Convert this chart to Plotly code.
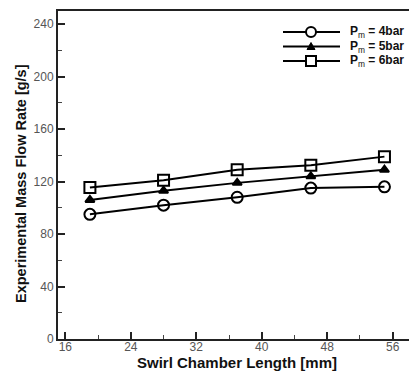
import plotly.graph_objects as go

# ---- data ----
chamber_length = [19, 28, 37, 46, 55]
flow_4bar = [95, 102, 108, 115, 116]
flow_5bar = [106, 113, 119, 124, 129]
flow_6bar = [115.5, 121, 129, 132.5, 139]
series_names = ["P<sub>m</sub> = 4bar", "P<sub>m</sub> = 5bar", "P<sub>m</sub> = 6bar"]
x_ticks = [16, 24, 32, 40, 48, 56]
y_ticks = [0, 40, 80, 120, 160, 200, 240]

W, H = 409, 371
L, T, R, B = 58, 11, 0, 32

fig = go.Figure()
symbols = ["circle-open", "triangle-up", "square-open"]
sizes = [11, 8, 11]
for ys, sym, sz, nm in zip([flow_4bar, flow_5bar, flow_6bar], symbols, sizes, series_names):
    fig.add_trace(go.Scatter(
        x=chamber_length, y=ys, mode="lines+markers", name=nm,
        line=dict(color="black", width=2),
        marker=dict(symbol=sym, size=sz, color="black", line=dict(color="black", width=2)),
        showlegend=False,
    ))

tickfont = dict(family="Liberation Sans, Arial", size=12, color="#555555")
fig.update_xaxes(
    range=[15.1, 58.0], tickvals=x_ticks, ticks="inside", ticklen=7, tickwidth=2,
    tickcolor="#222", showline=True, linecolor="#222", linewidth=2, mirror=True,
    showgrid=False, zeroline=False, tickfont=tickfont, ticklabelstandoff=-4,
    minor=dict(dtick=4, tick0=16, ticks="inside", ticklen=4, tickwidth=1, tickcolor="#444", showgrid=False),
)
fig.update_yaxes(
    range=[0, 250], tickvals=y_ticks, ticks="inside", ticklen=7, tickwidth=2,
    tickcolor="#222", showline=True, linecolor="#222", linewidth=2, mirror=False,
    showgrid=False, zeroline=False, tickfont=tickfont,
    minor=dict(dtick=20, tick0=0, ticks="inside", ticklen=4, tickwidth=1, tickcolor="#444", showgrid=False),
)

# ---- custom legend (decoration in paper coordinates) ----
pw, ph = W - L - R, H - T - B
def px(xp):
    return (xp - L) / pw
def py(yp):
    return 1 - (yp - T) / ph

rows = [32, 46.5, 61]
for i, (yr, nm) in enumerate(zip(rows, series_names)):
    fig.add_shape(type="line", xref="paper", yref="paper",
                  x0=px(283), x1=px(340), y0=py(yr), y1=py(yr),
                  line=dict(color="black", width=2))
    cx = 311
    if i == 0:
        fig.add_shape(type="circle", xref="paper", yref="paper",
                      x0=px(cx - 5), x1=px(cx + 5), y0=py(yr + 5), y1=py(yr - 5),
                      line=dict(color="black", width=2), fillcolor="white")
    elif i == 1:
        fig.add_shape(type="path", xref="paper", yref="paper",
                      path=f"M {px(cx-4)},{py(yr+3)} L {px(cx+4)},{py(yr+3)} L {px(cx)},{py(yr-4)} Z",
                      line=dict(color="black", width=1), fillcolor="black")
    else:
        fig.add_shape(type="rect", xref="paper", yref="paper",
                      x0=px(cx - 5), x1=px(cx + 5), y0=py(yr + 5), y1=py(yr - 5),
                      line=dict(color="black", width=2), fillcolor="white")
    fig.add_annotation(xref="paper", yref="paper", x=px(348), y=py(yr),
                       xanchor="left", yanchor="middle", showarrow=False,
                       text="<b>P</b><sub>m</sub><b> = " + nm.split("= ")[1] + "</b>",
                       font=dict(family="Liberation Sans, Arial", size=12, color="#111"))

# ---- axis titles ----
fig.add_annotation(xref="paper", yref="paper", x=px(237), y=py(362),
                   xanchor="center", yanchor="middle", showarrow=False,
                   text="<b>Swirl Chamber Length [mm]</b>",
                   font=dict(family="Liberation Sans, Arial", size=15, color="#111"))
fig.add_annotation(xref="paper", yref="paper", x=px(21), y=py(184),
                   xanchor="center", yanchor="middle", showarrow=False, textangle=-90,
                   text="<b>Experimental Mass Flow Rate [g/s]</b>",
                   font=dict(family="Liberation Sans, Arial", size=14.5, color="#111"))

fig.update_layout(
    width=W, height=H, margin=dict(l=L, r=R, t=T, b=B, autoexpand=False),
    paper_bgcolor="white", plot_bgcolor="white", showlegend=False,
)
fig.write_html("out.html")
